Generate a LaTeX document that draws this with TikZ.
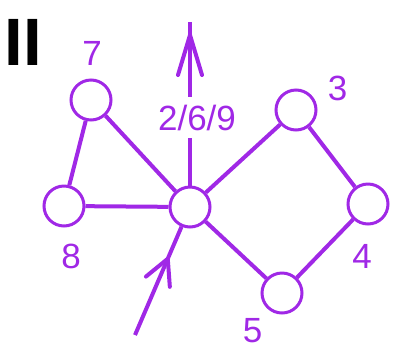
\documentclass[tikz,border=0pt]{standalone}
\usepackage{fontspec}
\setmainfont{Liberation Sans}
\usetikzlibrary{arrows.meta,decorations.markings}
\definecolor{graphpurple}{RGB}{160,40,230}
\tikzset{
	vert/.style={circle, draw=graphpurple, line width=3pt, minimum size=40pt, inner sep=0pt},
	edge/.style={draw=graphpurple, line width=4pt},
	num/.style={text=graphpurple, font=\fontsize{35}{35}\selectfont, inner sep=0pt, anchor=base},
	outarrow/.style={postaction={decorate}, decoration={markings,
		mark=at position -11pt with {\arrow{Straight Barb[length=40pt,width=24pt,round]}}}},
	inarrow/.style={postaction={decorate}, decoration={markings,
		mark=at position 85pt with {\arrow{Straight Barb[length=25pt,width=26pt,round]}}}}
}
\begin{document}
\begin{tikzpicture}[x=1pt,y=-1pt]
		\useasboundingbox (0,0) rectangle (398,349);
		\node[font=\fontsize{67}{67}\selectfont\bfseries, inner sep=0pt, anchor=base] (part) at (23.5,65) {II};
		
		% vertices
		\node[vert] (v7) at (91,100) {};
		\node[vert] (v8) at (64,206) {};
		\node[vert] (c) at (190,207) {};
		\node[vert] (v3) at (296,110) {};
		\node[vert] (v4) at (368,204) {};
		\node[vert] (v5) at (282,293) {};
		
		% labels
		\node[num] (l7) at (92,65) {7};
		\node[num] (l8) at (71,268) {8};
		\node[num] (l3) at (337.5,100) {3};
		\node[num] (l4) at (362,268) {4};
		\node[num] (l5) at (252.5,342) {5};
		
		% edges
		\draw[edge] (v7) -- (v8);
		\draw[edge] (v7) -- (c);
		\draw[edge] (v8) -- (c);
		\draw[edge] (c) -- (v3);
		\draw[edge] (v3) -- (v4);
		\draw[edge] (v4) -- (v5);
		\draw[edge] (v5) -- (c);
		
		\coordinate (top) at (190,22);
		\coordinate (start) at (135,335);
		\draw[edge, outarrow] (c) -- (top);
		\draw[edge, inarrow] (start) -- (c);
		\node[num, fill=white, inner ysep=8pt] (l269) at (197,130) {2/6/9};
	\end{tikzpicture}
\end{document}
